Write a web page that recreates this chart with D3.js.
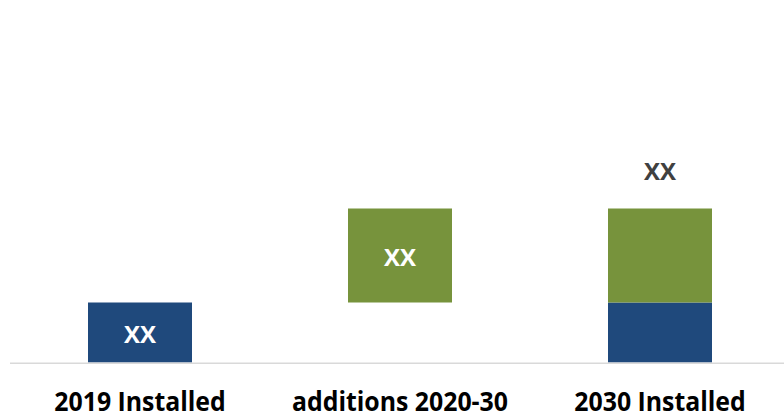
<!DOCTYPE html>
<html><head><meta charset="utf-8">
<script src="https://cdn.jsdelivr.net/npm/d3@7"></script>
<style>body{margin:0;background:#fff}svg{display:block}</style>
</head><body>
<svg id="c" width="784" height="411"></svg>
<script>
const categories = ["2019 Installed", "additions 2020-30", "2030 Installed"];
const baseValues = [30, 0, 30];        // blue (installed 2019) portion
const addValues = [0, 47, 47];         // green (additions) portion
const floatValues = [0, 30, 0];        // invisible offset for waterfall
const barLabels = ["XX", "XX", null];
const totalLabels = [null, null, "XX"];
const colors = { base: "#1F497C", add: "#77933C" };

const svg = d3.select("#c");
const x = d3.scaleBand().domain(categories).range([10, 790]).paddingInner(0.6).paddingOuter(0.3);
const y = d3.scaleLinear().domain([0, 180]).range([362.5, 2.5]);

const data = categories.map((c, i) => ({ c, base: baseValues[i], add: addValues[i], float: floatValues[i], i }));

// blue segments
svg.append("g").selectAll("rect").data(data.filter(d => d.base > 0)).join("rect")
  .attr("x", d => x(d.c)).attr("width", x.bandwidth())
  .attr("y", d => y(d.base)).attr("height", d => y(0) - y(d.base))
  .attr("fill", colors.base);

// green segments
svg.append("g").selectAll("rect").data(data.filter(d => d.add > 0)).join("rect")
  .attr("x", d => x(d.c)).attr("width", x.bandwidth())
  .attr("y", d => y(d.float + d.base + d.add)).attr("height", d => y(d.float + d.base) - y(d.float + d.base + d.add))
  .attr("fill", colors.add);

// axis line
svg.append("line").attr("x1", 10).attr("x2", 784).attr("y1", y(0) + 0.8).attr("y2", y(0) + 0.8)
  .attr("stroke", "#d9d9d9").attr("stroke-width", 1.6);

// in-bar labels
svg.append("g").selectAll("text").data(data.filter(d => barLabels[d.i])).join("text")
  .attr("x", d => x(d.c) + x.bandwidth() / 2)
  .attr("y", d => {
    const lo = d.float, hi = d.float + d.base + d.add;
    return (y(lo) + y(hi)) / 2 + 10.5;
  })
  .attr("text-anchor", "middle")
  .attr("font-family", "'Open Sans', sans-serif").attr("font-weight", 700).attr("font-size", 24)
  .attr("fill", "#ffffff")
  .text(d => barLabels[d.i]);

// total labels
svg.append("g").selectAll("text").data(data.filter(d => totalLabels[d.i])).join("text")
  .attr("x", d => x(d.c) + x.bandwidth() / 2)
  .attr("y", d => y(d.base + d.add) - 29)
  .attr("text-anchor", "middle")
  .attr("font-family", "'Open Sans', sans-serif").attr("font-weight", 700).attr("font-size", 24)
  .attr("fill", "#404040")
  .text(d => totalLabels[d.i]);

// category labels
svg.append("g").selectAll("text").data(categories).join("text")
  .attr("x", d => x(d) + x.bandwidth() / 2)
  .attr("y", 410.5)
  .attr("text-anchor", "middle")
  .attr("font-family", "'Open Sans', sans-serif").attr("font-weight", 700).attr("font-size", 26)
  .attr("fill", "#000000")
  .text(d => d)
  .each(function () {
    const target = this.getComputedTextLength() * 169 / 177;
    d3.select(this).attr("textLength", target).attr("lengthAdjust", "spacingAndGlyphs");
  });
</script>
</body></html>
